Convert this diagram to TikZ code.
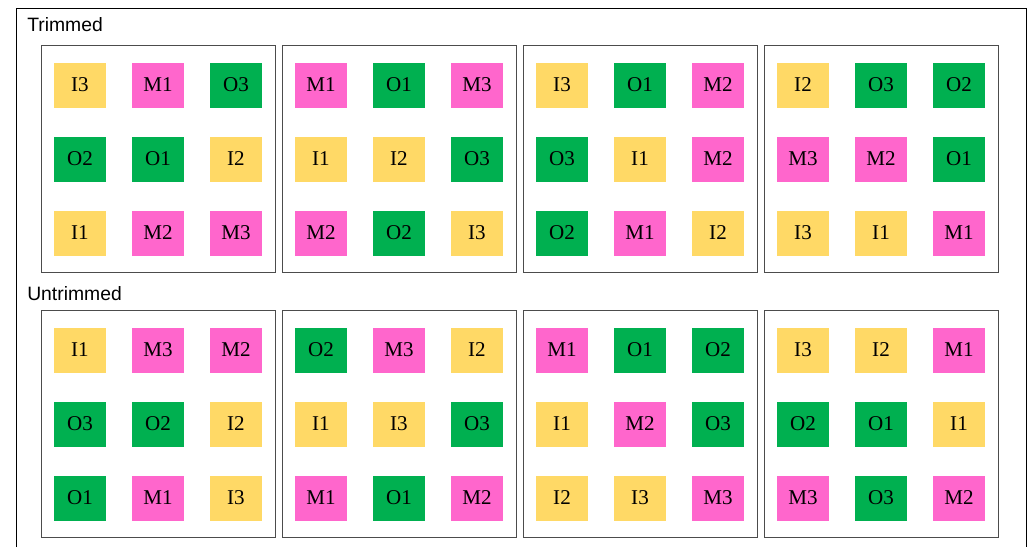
\documentclass[tikz,border=0pt]{standalone}
\usepackage{fontspec}
\setmainfont{Liberation Serif}
\setsansfont{Liberation Sans}
\usetikzlibrary{positioning}

\definecolor{tileI}{HTML}{FFD966}
\definecolor{tileM}{HTML}{FF66CC}
\definecolor{tileO}{HTML}{00B050}

% one bordered panel with its 3x3 tiles: left, top, name, tiles
\newcommand{\tilepanel}[4]{%
  \node[panel, anchor=north west] (#3) at (#1,#2) {};
  \foreach \t/\n [count=\i from 0] in {#4} {
    \pgfmathtruncatemacro{\col}{mod(\i,3)}
    \pgfmathtruncatemacro{\row}{div(\i,3)}
    \node[tile=\t] (#3-\t\n) at (#1+39+78*\col, #2+40+74*\row) {\t\n};
  }
}

\begin{document}
\begin{tikzpicture}[
    x=0.75pt, y=-0.75pt,
    panel/.style={draw=black!70, line width=0.8pt, minimum width=175.5pt,
                  minimum height=170.25pt, inner sep=0pt},
    tile/.style={fill=tile#1, minimum width=39pt, minimum height=33.75pt,
                 inner sep=0pt, font=\fontsize{15.8}{17}\selectfont},
    heading/.style={anchor=west, inner sep=0pt,
                    font=\sffamily\fontsize{14.5}{17}\selectfont}
  ]
  \useasboundingbox (0,0) rectangle (1030,547);
  \draw[line width=0.7pt] (16,547) -- (16,8) -- (1026,8) -- (1026,547);

  \node[heading] (trim) at (27,25) {Trimmed};
  \node[heading] (untrim) at (27,294) {Untrimmed};

  % Trimmed
  \tilepanel{41}{45}{ta}{I/3,M/1,O/3,O/2,O/1,I/2,I/1,M/2,M/3}
  \tilepanel{282}{45}{tb}{M/1,O/1,M/3,I/1,I/2,O/3,M/2,O/2,I/3}
  \tilepanel{523}{45}{tc}{I/3,O/1,M/2,O/3,I/1,M/2,O/2,M/1,I/2}
  \tilepanel{764}{45}{td}{I/2,O/3,O/2,M/3,M/2,O/1,I/3,I/1,M/1}

  % Untrimmed
  \tilepanel{41}{310}{ua}{I/1,M/3,M/2,O/3,O/2,I/2,O/1,M/1,I/3}
  \tilepanel{282}{310}{ub}{O/2,M/3,I/2,I/1,I/3,O/3,M/1,O/1,M/2}
  \tilepanel{523}{310}{uc}{M/1,O/1,O/2,I/1,M/2,O/3,I/2,I/3,M/3}
  \tilepanel{764}{310}{ud}{I/3,I/2,M/1,O/2,O/1,I/1,M/3,O/3,M/2}
\end{tikzpicture}
\end{document}
